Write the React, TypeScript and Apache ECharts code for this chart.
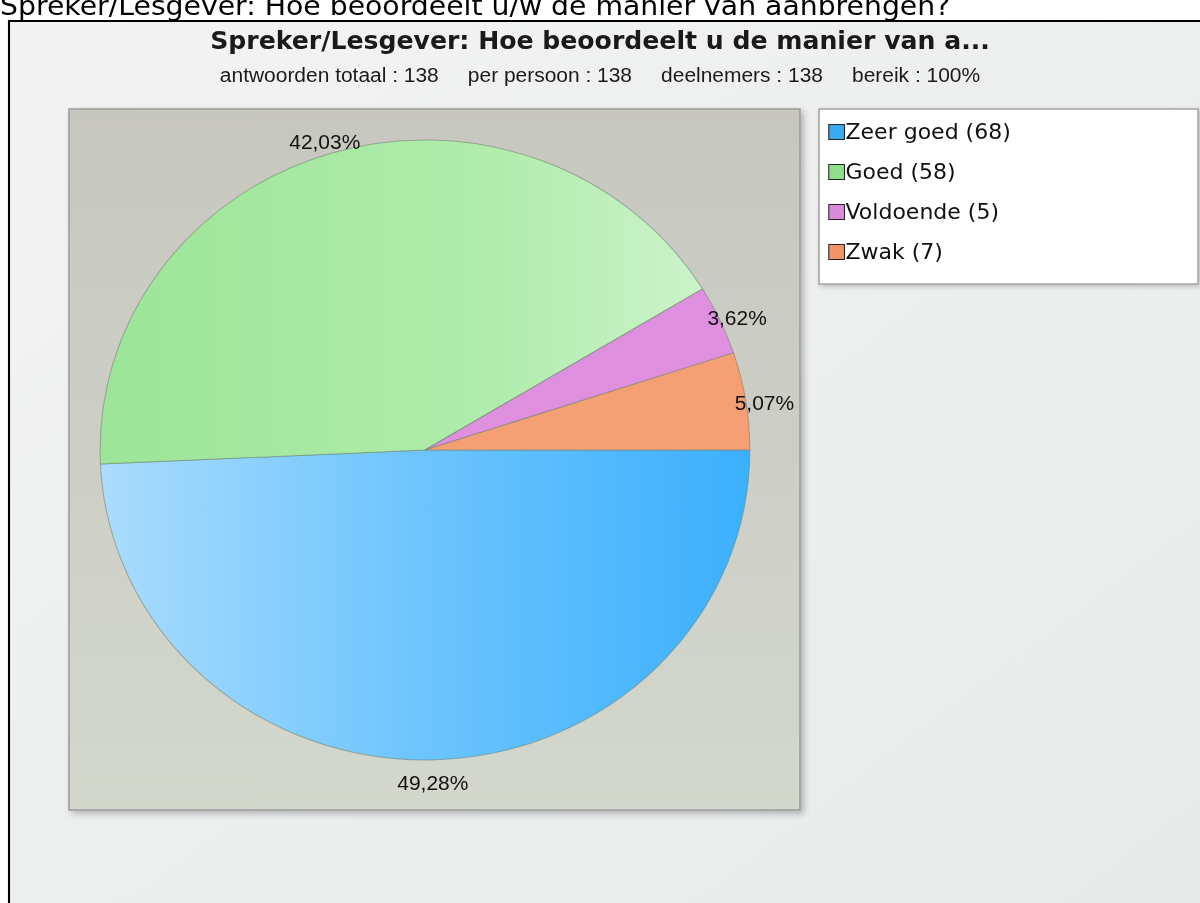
import React, { useEffect, useRef } from "react";
import * as echarts from "echarts";

const pageHeading = "Spreker/Lesgever: Hoe beoordeelt u/w de manier van aanbrengen?";
const chartTitle = "Spreker/Lesgever: Hoe beoordeelt u de manier van a...";
const subtitleParts = ["antwoorden totaal : 138", "per persoon : 138", "deelnemers : 138", "bereik : 100%"];

const categories = ["Zeer goed", "Goed", "Voldoende", "Zwak"];
const counts = [68, 58, 5, 7];
const legendColors = ["#3ba9f2", "#8ede8a", "#d98ad9", "#f29466"];

// the reference picture is slightly stretched horizontally
const SX = 1.048;
const W = 1200 / SX;
const px = (x: number) => x / SX;

const CX = px(425);
const CY = 450;
const R = 310;

const sliceFills: any[] = [
  {
    type: "linear", x: CX - R, y: 0, x2: CX + R, y2: 0, global: true,
    colorStops: [
      { offset: 0, color: "#aadcfd" },
      { offset: 0.5, color: "#6cc4fd" },
      { offset: 1, color: "#3cb0fd" },
    ],
  },
  {
    type: "linear", x: CX - R, y: 0, x2: CX + R, y2: 0, global: true,
    colorStops: [
      { offset: 0, color: "#9ce598" },
      { offset: 0.6, color: "#b0ecac" },
      { offset: 1, color: "#d2f4d0" },
    ],
  },
  "#de90df",
  "#f4a074",
];

export default function App() {
  const ref = useRef<HTMLDivElement>(null);
  useEffect(() => {
    if (!ref.current) return;
    const chart = echarts.init(ref.current, undefined, { renderer: "svg" });
    const data = categories.map((name, i) => ({
      name,
      value: counts[i],
      itemStyle: { color: sliceFills[i] },
    }));
    chart.setOption({
      animation: false,
      backgroundColor: "#ffffff",
      title: [
        {
          text: chartTitle,
          left: "center",
          top: 24,
          textStyle: { fontFamily: "DejaVu Sans", fontSize: 24, fontWeight: "bold", color: "#1a1a1a" },
        },
        {
          text: subtitleParts.join("     "),
          left: "center",
          top: 60,
          textStyle: { fontFamily: "Liberation Sans", fontSize: 20, fontWeight: "normal", color: "#1a1a1a" },
        },
      ],
      legend: {
        orient: "vertical",
        left: px(823),
        top: 115,
        itemWidth: 15,
        itemHeight: 15,
        itemGap: 16,
        icon: "rect",
        selectedMode: false,
        data: categories.map((name, i) => ({
          name,
          itemStyle: { color: legendColors[i], borderColor: "#222", borderWidth: 1 },
        })),
        formatter: (name: string) => `${name} (${counts[categories.indexOf(name)]})`,
        textStyle: { fontFamily: "DejaVu Sans", fontSize: 21, lineHeight: 24, color: "#111", padding: [0, 0, 0, -4] },
      },
      graphic: [
        {
          type: "text",
          x: 0,
          y: 19,
          z: 10,
          style: { text: pageHeading, fontFamily: "DejaVu Sans", fontSize: 27, fill: "#000", verticalAlign: "bottom" },
        },
        {
          type: "rect",
          z: -10,
          shape: { x: px(8), y: 20, width: W, height: 903 },
          style: {
            fill: {
              type: "linear", x: 0, y: 0, x2: 1, y2: 1,
              colorStops: [
                { offset: 0, color: "#f3f3f3" },
                { offset: 1, color: "#e6ebea" },
              ],
            },
          },
        },
        { type: "line", z: 5, shape: { x1: px(8), y1: 21, x2: W, y2: 21 }, style: { stroke: "#000", lineWidth: 2 } },
        { type: "line", z: 5, shape: { x1: px(9), y1: 20, x2: px(9), y2: 903 }, style: { stroke: "#000", lineWidth: 2 } },
        {
          type: "rect",
          z: -5,
          shape: { x: px(69), y: 109, width: px(731), height: 701 },
          style: {
            fill: {
              type: "linear", x: 0, y: 0, x2: 0, y2: 1,
              colorStops: [
                { offset: 0, color: "#c7c7bf" },
                { offset: 1, color: "#d3d7cc" },
              ],
            },
            stroke: "#9c9c9c",
            lineWidth: 1.5,
            shadowBlur: 6,
            shadowOffsetX: 3,
            shadowOffsetY: 3,
            shadowColor: "rgba(0,0,0,0.25)",
          },
        },
        {
          type: "rect",
          z: -5,
          shape: { x: px(819), y: 109, width: px(379), height: 175 },
          style: {
            fill: "#ffffff",
            stroke: "#a4a4a4",
            lineWidth: 1.5,
            shadowBlur: 5,
            shadowOffsetX: 2,
            shadowOffsetY: 2,
            shadowColor: "rgba(0,0,0,0.2)",
          },
        },
      ],
      series: [
        {
          type: "pie",
          center: [CX, CY],
          radius: R,
          startAngle: 0,
          clockwise: true,
          silent: true,
          label: { show: false },
          labelLine: { show: false },
          itemStyle: { borderColor: "rgba(110,130,110,0.55)", borderWidth: 1 },
          data,
        },
        {
          type: "pie",
          center: [CX, CY + 5],
          radius: [R, R + 30],
          startAngle: 0,
          clockwise: true,
          silent: true,
          legendHoverLink: false,
          itemStyle: { color: "rgba(0,0,0,0)" },
          label: {
            show: true,
            position: "inside",
            formatter: (p: any) => `${p.percent.toFixed(2).replace(".", ",")}%`,
            fontFamily: "Liberation Sans",
            fontSize: 20,
            color: "#111",
          },
          labelLine: { show: false },
          data: categories.map((name, i) => ({ name, value: counts[i] })),
        },
      ],
    });
    return () => chart.dispose();
  }, []);
  return (
    <div
      ref={ref}
      style={{
        position: "absolute",
        left: 0,
        top: 0,
        width: W,
        height: 903,
        transform: `scaleX(${SX})`,
        transformOrigin: "0 0",
      }}
    />
  );
}
